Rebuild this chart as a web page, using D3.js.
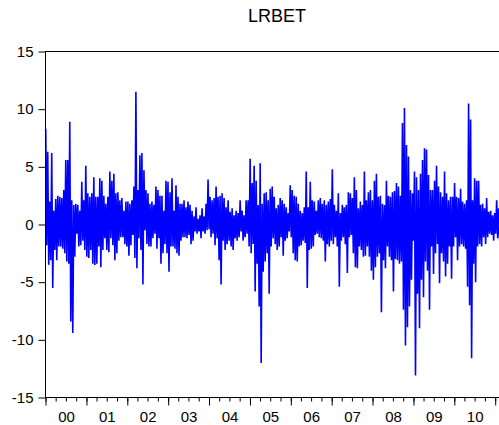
<!DOCTYPE html>
<html>
<head>
<meta charset="utf-8">
<script src="https://cdn.jsdelivr.net/npm/d3@7"></script>
<style>
body{margin:0;background:#fff;}
svg{display:block;font-family:"Liberation Sans",Arial,sans-serif;}
</style>
</head>
<body>
<div id="chart"></div>
<script>
var title = 'LRBET';
var firstObs = new Date(2000, 0, 3), lastObs = new Date(2011, 1, 10);
var yTicks = [-15, -10, -5, 0, 5, 10, 15];
var yearLabels = ['00','01','02','03','04','05','06','07','08','09','10'];

// daily log returns (high / low swings)
var lrbet_00_01 = [8.3,-1.8, 6.3,-3.5, 2.0,-3.1, 6.2,-5.5, 1.2,-2.2, 2.2,-3.1, 2.5,-1.9, 2.4,-1.9, 2.3,-2.1, 3.0,-2.5,
	5.6,-3.2, 5.6,-3.4, 8.9,-8.4, 2.1,-9.4, 1.7,-2.8, 1.8,-0.8, 1.7,-1.9, 1.2,-1.8, 3.7,-1.4, 2.1,-2.2,
	5.1,-2.8, 2.7,-2.9, 2.4,-2.2, 2.7,-3.4, 4.1,-3.5, 2.4,-3.4, 2.4,-1.9, 4.0,-3.7, 3.8,-2.2, 2.5,-1.2,
	1.8,-2.2, 2.4,-2.4, 4.6,-1.2, 3.8,-1.8, 4.4,-3.1, 2.7,-2.5, 2.8,-1.4, 2.1,-1.1];
var lrbet_01_03 = [2.3,-1.1, 1.2,-1.7, 2.0,-1.9, 2.0,-2.7, 1.8,-1.8, 2.1,-0.9, 3.3,-2.9, 11.5,-3.8, 3.0,-1.2, 6.0,-2.2,
	6.2,-5.2, 4.7,-0.5, 3.0,-1.7, 2.7,-1.9, 1.8,-1.9, 2.0,-1.2, 1.7,-0.8, 3.3,-2.1, 3.0,-1.2, 2.5,-3.4,
	2.5,-2.5, 1.2,-1.7, 3.8,-2.5, 3.7,-4.1, 2.8,-1.9, 4.0,-1.9, 1.2,-2.1, 3.4,-2.5, 2.4,-2.7, 1.8,-1.4,
	1.8,-1.1, 2.1,-1.1, 1.5,-1.2, 2.0,-0.9, 1.7,-1.7, 1.2,-1.4, 0.7,-0.6, 1.5,-0.8];
var lrbet_03_05 = [0.5,-0.6, 0.8,-1.2, 1.4,-0.6, 0.7,-0.8, 1.8,-0.5, 3.9,-0.4, 2.4,-1.1, 2.1,-0.8, 2.3,-1.8, 3.3,-1.2,
	2.4,-3.1, 2.5,-5.2, 2.7,-1.4, 2.3,-2.2, 1.5,-1.7, 2.1,-1.4, 1.1,-1.9, 1.4,-2.2, 0.8,-1.2, 1.2,-1.4,
	1.0,-1.1, 2.1,-0.6, 1.2,-1.4, 0.8,-1.1, 2.1,-0.8, 2.1,-1.9, 5.7,-2.5, 3.6,-1.7, 5.1,-5.8, 3.8,-3.4,
	1.7,-7.1, 5.3,-12.0, 1.8,-4.1, 2.7,-3.2, 2.8,-2.5, 2.1,-6.0, 3.1,-1.9, 3.3,-1.2];
var lrbet_05_07 = [2.4,-1.7, 1.4,-2.2, 1.7,-1.9, 2.3,-1.1, 2.1,-2.7, 1.8,-1.4, 1.5,-1.2, 1.0,-0.6, 3.4,-1.1, 3.0,-2.5,
	2.5,-3.1, 2.4,-3.2, 1.8,-1.9, 1.2,-1.8, 1.0,-1.4, 1.5,-1.6, 4.6,-5.5, 1.5,-2.2, 3.7,-2.1, 2.1,-1.9,
	2.0,-0.9, 1.2,-0.8, 2.1,-1.1, 2.3,-1.2, 1.8,-1.4, 2.1,-3.2, 1.7,-1.7, 2.0,-1.9, 2.2,-1.4, 4.8,-1.7,
	1.7,-1.1, 1.2,-1.9, 2.7,-5.4, 1.0,-1.4, 1.7,-1.1, 1.5,-1.7, 1.7,-4.2, 2.8,-1.1];
var lrbet_07_09 = [2.7,-0.9, 2.3,-2.5, 4.1,-3.7, 3.0,-3.8, 1.4,-1.9, 2.0,-2.2, 1.7,-2.8, 4.6,-2.7, 2.1,-1.9, 2.8,-2.8,
	3.0,-4.0, 2.1,-4.8, 3.8,-3.7, 4.4,-2.8, 2.4,-2.5, 2.5,-7.6, 1.8,-3.1, 1.7,-3.8, 3.8,-1.9, 2.5,-2.8,
	2.4,-3.1, 2.8,-5.8, 2.9,-3.0, 3.6,-3.1, 3.3,-3.4, 2.5,-3.2, 8.8,-7.4, 10.1,-10.5, 6.9,-8.9, 5.9,-7.1,
	3.0,-4.8, 2.7,-1.4, 4.6,-13.1, 4.1,-6.0, 3.0,-9.0, 4.4,-4.8, 5.6,-6.3, 6.6,-3.2];
var lrbet_09_11 = [6.5,-4.0, 4.3,-7.4, 3.0,-1.9, 3.0,-4.3, 3.8,-2.5, 5.1,-1.7, 3.3,-5.1, 2.8,-2.5, 2.4,-3.2, 4.6,-4.5,
	2.7,-3.4, 2.1,-1.9, 2.4,-4.7, 2.4,-1.9, 3.6,-1.1, 2.4,-3.1, 2.3,-1.9, 3.1,-1.7, 2.0,-1.9, 1.8,-2.1,
	2.1,-5.4, 10.5,-7.0, 9.1,-11.6, 2.1,-3.4, 4.0,-5.0, 3.8,-1.9, 3.8,-1.7, 1.7,-1.9, 1.8,-1.1, 1.4,-1.7,
	2.3,-1.1, 1.1,-0.8, 1.2,-0.9, 0.8,-1.4, 1.0,-0.8, 2.1,-1.2, 1.4,-1.4];

var values = [].concat(lrbet_00_01, lrbet_01_03, lrbet_03_05, lrbet_05_07, lrbet_07_09, lrbet_09_11);

var W = 499, H = 425,
	L = 45.5, R = 500, T = 51.5, B = 397.5;

var obsTime = d3.scaleLinear().domain([0, values.length - 1]).range([firstObs, lastObs]);
var data = values.map(function(v, i){ return {date: new Date(obsTime(i)), v: v}; });

var x = d3.scaleTime()
	.domain([new Date(2000, 0, 1), new Date(2011, 1, 13)])
	.range([L, R]);
var y = d3.scaleLinear().domain([-15, 15]).range([B, T]);

var svg = d3.select('#chart').append('svg')
	.attr('width', W).attr('height', H);

svg.append('text')
	.attr('x', 277).attr('y', 22)
	.attr('text-anchor', 'middle')
	.style('font-size', '18px')
	.attr('fill', '#000')
	.text(title);

//series
svg.append('path')
	.datum(data)
	.attr('fill', 'none')
	.attr('stroke', '#0000ff')
	.attr('stroke-width', 1.6)
	.attr('stroke-linejoin', 'bevel')
	.attr('d', d3.line().x(function(d){ return x(d.date); }).y(function(d){ return y(d.v); }));

//frame
svg.append('rect')
	.attr('x', L).attr('y', T)
	.attr('width', R - L).attr('height', B - T)
	.attr('fill', 'none').attr('stroke', '#000');

//y axis
var gy = svg.append('g')
	.attr('transform', 'translate(' + L + ',0)')
	.call(d3.axisLeft(y).tickValues(yTicks).tickSize(7).tickPadding(5)
		.tickFormat(function(d){ return String(d); }));
gy.select('.domain').remove();

//x axis: quarters, years, labels
var endAxis = new Date(2011, 1, 14);
var gMinor = svg.append('g')
	.attr('transform', 'translate(0,' + B + ')')
	.call(d3.axisBottom(x).tickValues(d3.timeMonth.every(3).range(new Date(2000, 0, 1), endAxis)).tickSize(4).tickFormat(''));
var gMajor = svg.append('g')
	.attr('transform', 'translate(0,' + B + ')')
	.call(d3.axisBottom(x).tickValues(d3.timeYear.range(new Date(2000, 0, 1), endAxis)).tickSize(8).tickFormat(''));
var gLab = svg.append('g')
	.attr('transform', 'translate(0,' + B + ')')
	.call(d3.axisBottom(x)
		.tickValues(yearLabels.map(function(s, i){ return new Date(2000 + i, 6, 2); }))
		.tickSize(0).tickPadding(13.5)
		.tickFormat(function(d, i){ return yearLabels[i]; }));

[gMinor, gMajor, gLab].forEach(function(g){ g.select('.domain').remove(); });
gLab.selectAll('line').remove();

svg.selectAll('.tick text')
	.style('font-size', '15px')
	.style('font-family', '"Liberation Sans",Arial,sans-serif')
	.attr('fill', '#000');
svg.selectAll('.tick line').attr('stroke', '#000');
</script>
</body>
</html>
